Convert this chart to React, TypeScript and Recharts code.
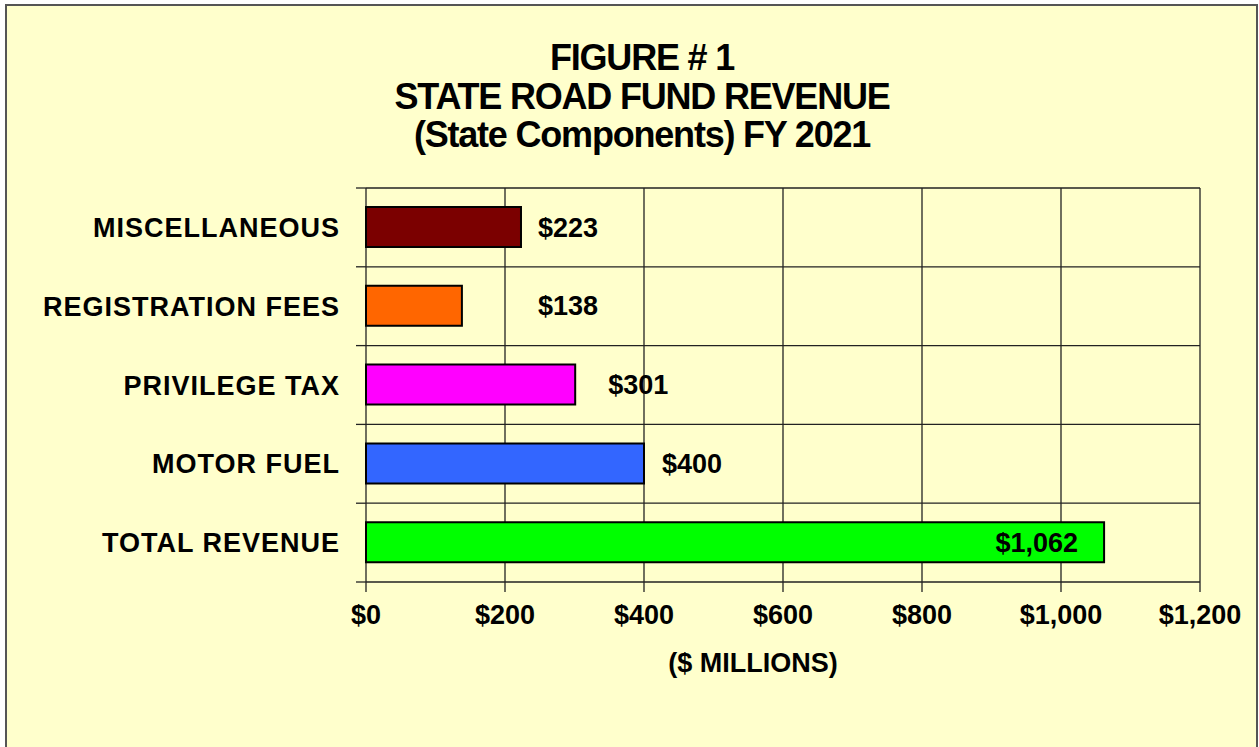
import React from 'react';
import { BarChart, Bar, XAxis, YAxis, CartesianGrid, Cell, LabelList } from 'recharts';

const CATEGORIES = ['MISCELLANEOUS', 'REGISTRATION FEES', 'PRIVILEGE TAX', 'MOTOR FUEL', 'TOTAL REVENUE'];
const REVENUE = [223, 138, 301, 400, 1062];
const X_TICKS = [0, 200, 400, 600, 800, 1000, 1200];
const TITLE_LINES = ['FIGURE # 1', 'STATE ROAD FUND REVENUE', '(State Components) FY 2021'];

const COLORS = ['#7B0000', '#FF6600', '#FF00FF', '#3366FF', '#00FF00'];
// Excel put the labels at uneven distances from the bar ends
const LABEL_GAP: Record<string, number> = {
  MISCELLANEOUS: 17,
  'REGISTRATION FEES': 76,
  'PRIVILEGE TAX': 33,
  'MOTOR FUEL': 18,
};

const FONT = '"Liberation Sans", Arial, Helvetica, sans-serif';
const W = 1259;
const H = 747;
const TOP = 188;
const BOTTOM = 582;
const AXIS_X = 366;
const PLOT_H = BOTTOM - TOP;
const LINE = '#222';

const data = CATEGORIES.map((name, i) => ({ name, value: REVENUE[i] }));

const money = (v: number) => '$' + v.toLocaleString('en-US');

function CategoryTick(props: any) {
  const { x, y, payload, index } = props;
  const band = PLOT_H / CATEGORIES.length;
  return (
    <g>
      <line x1={AXIS_X - 10} x2={AXIS_X} y1={y - band / 2} y2={y - band / 2} stroke={LINE} strokeWidth={1.3} />
      {index === CATEGORIES.length - 1 && (
        <line x1={AXIS_X - 10} x2={AXIS_X} y1={y + band / 2} y2={y + band / 2} stroke={LINE} strokeWidth={1.3} />
      )}
      <text
        x={x}
        y={y}
        dy="0.355em"
        textAnchor="end"
        fill="#000"
        fontSize={27}
        fontWeight={700}
        fontFamily={FONT}
        style={{ letterSpacing: 1 }}
      >
        {payload.value}
      </text>
    </g>
  );
}

function ValueLabel(props: any) {
  const { x, y, width, height, value, index } = props;
  const name = CATEGORIES[index];
  const inside = name === 'TOTAL REVENUE';
  const tx = inside ? x + width - 26 : x + width + (LABEL_GAP[name] ?? 17);
  return (
    <text
      x={tx}
      y={y + height / 2}
      dy="0.355em"
      textAnchor={inside ? 'end' : 'start'}
      fill="#000"
      fontSize={27}
      fontWeight={700}
      fontFamily={FONT}
    >
      {money(value)}
    </text>
  );
}

export default function App() {
  return (
    <div
      style={{
        position: 'absolute',
        left: 0,
        top: 0,
        width: W,
        height: H,
        overflow: 'hidden',
        background: '#fff',
        fontFamily: FONT,
      }}
    >
      <div
        style={{
          position: 'absolute',
          left: 5,
          top: 4,
          width: 1253,
          height: 780,
          boxSizing: 'border-box',
          border: '2px solid #555',
          background: '#FFFFCC',
        }}
      />

      <div
        style={{
          position: 'absolute',
          left: 342,
          top: 39,
          width: 600,
          textAlign: 'center',
          fontSize: 36,
          lineHeight: '38.5px',
          fontWeight: 700,
          letterSpacing: -1.2,
          color: '#000',
        }}
      >
        {TITLE_LINES.map((t) => (
          <div key={t}>{t}</div>
        ))}
      </div>

      <div style={{ position: 'absolute', left: 0, top: 0 }}>
        <BarChart
          width={W}
          height={H}
          data={data}
          layout="vertical"
          margin={{ top: TOP, right: W - 1200, bottom: H - BOTTOM - 60, left: 0 }}
        >
          <CartesianGrid
            stroke={LINE}
            strokeWidth={1.3}
            horizontalCoordinatesGenerator={({ offset }: any) =>
              Array.from({ length: CATEGORIES.length + 1 }, (_, i) => offset.top + (i * offset.height) / CATEGORIES.length)
            }
          />
          <XAxis
            type="number"
            domain={[0, 1200]}
            ticks={X_TICKS}
            tickFormatter={money}
            axisLine={false}
            tickLine={{ stroke: LINE, strokeWidth: 1.3 }}
            tickSize={10}
            tickMargin={13}
            height={60}
            interval={0}
            tick={{ fill: '#000', fontSize: 27, fontWeight: 700, fontFamily: FONT }}
          />
          <YAxis
            type="category"
            dataKey="name"
            width={AXIS_X}
            axisLine={false}
            tickLine={false}
            tickSize={0}
            tickMargin={26}
            interval={0}
            tick={<CategoryTick />}
          />
          <Bar dataKey="value" barSize={40} stroke="#000" strokeWidth={2} isAnimationActive={false}>
            {data.map((d, i) => (
              <Cell key={d.name} fill={COLORS[i]} />
            ))}
            <LabelList dataKey="value" content={<ValueLabel />} />
          </Bar>
        </BarChart>
      </div>

      <div
        style={{
          position: 'absolute',
          left: 553,
          top: 648,
          width: 400,
          textAlign: 'center',
          fontSize: 27,
          lineHeight: '30px',
          fontWeight: 700,
          color: '#000',
        }}
      >
        ($ MILLIONS)
      </div>
    </div>
  );
}
